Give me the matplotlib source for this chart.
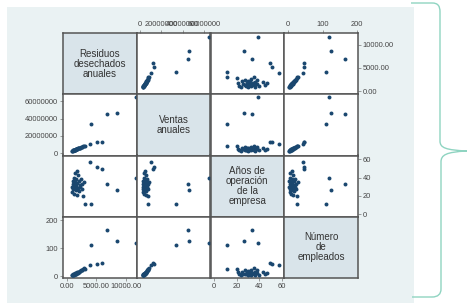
"""Scatter matrix: residuos, ventas, años de operación, empleados."""
import matplotlib
matplotlib.use("Agg")
import matplotlib.pyplot as plt
from matplotlib.patches import Rectangle, PathPatch
from matplotlib.path import Path

plt.rcParams["font.family"] = ["Liberation Sans", "DejaVu Sans"]

# --- data ----------------------------------------------------------------
labels = ["Residuos\ndesechados\nanuales", "Ventas\nanuales",
          "Años de\noperación\nde la\nempresa", "Número\nde\nempleados"]

residuos = [820, 880, 950, 1010, 1080, 1120, 1180, 1230, 1290, 1340, 1380,
            1430, 1480, 1520, 1570, 1620, 1680, 1730, 1790, 1850, 1920, 2000,
            2080, 2150, 2250, 2350, 2480, 2600, 2750, 2950,
            11700, 8600, 6900, 4080, 5980, 5120, 3970, 3100]
ventas = [2.6e6, 2.8e6, 3.0e6, 3.2e6, 3.3e6, 3.5e6, 3.6e6, 3.8e6, 3.9e6,
          4.1e6, 4.2e6, 4.3e6, 4.5e6, 4.6e6, 4.7e6, 4.9e6, 5.0e6, 5.2e6,
          5.3e6, 5.5e6, 5.6e6, 5.9e6, 6.0e6, 6.2e6, 6.5e6, 6.8e6, 7.1e6,
          7.4e6, 7.9e6, 8.4e6,
          65.0e6, 46.3e6, 44.7e6, 33.5e6, 12.4e6, 13.0e6, 10.4e6, 7.8e6]
anos = [30, 24, 36, 28, 33, 22, 40, 31, 27, 35, 45, 29, 33, 38, 26, 31, 47,
        34, 21, 29, 43, 36, 25, 32, 30, 38, 27, 33, 20, 35,
        39, 26.5, 33.5, 11.5, 49.5, 51.5, 57, 11.5]
empleados = [3, 5, 4, 7, 6, 8, 5, 9, 8, 10, 7, 11, 9, 12, 10, 13, 11, 12, 14,
             13, 15, 17, 16, 18, 19, 21, 22, 24, 26, 28,
             118, 125, 166, 110, 47, 45, 42, 25]

tick_vals = [[0, 5000, 10000], [0, 20000000, 40000000, 60000000],
             [0, 20, 40, 60], [0, 100, 200]]
tick_text = [["0.00", "5000.00", "10000.00"],
             ["0", "20000000", "40000000", "60000000"],
             ["0", "20", "40", "60"], ["0", "100", "200"]]

# axis limits (horizontal use, vertical use)
xlims = [(-680, 11900), (-3.0e6, 66e6), (-3.1, 62), (-11, 203)]
ylims = [(-700, 12600), (-2.6e6, 68e6), (-2.7, 64), (-6, 212)]

series = [residuos, ventas, anos, empleados]

# --- figure -------------------------------------------------------------
W, H = 467, 304
fig = plt.figure(figsize=(W / 100, H / 100), dpi=100)


def fx(x):
    return x / W


def fy(y):
    return 1 - y / H


fig.patches.append(Rectangle((fx(7), fy(303)), fx(414) - fx(7), fy(7) - fy(303),
                             transform=fig.transFigure, facecolor="#eaf2f3",
                             edgecolor="none", zorder=-1))

left, top, cw, ch = 63, 33, 73.75, 61.25
n = 4
for i in range(n):
    for j in range(n):
        ax = fig.add_axes([fx(left + j * cw), fy(top + (i + 1) * ch),
                           cw / W, ch / H])
        for s in ax.spines.values():
            s.set_color("#555555")
            s.set_linewidth(1.1)
        ax.tick_params(length=2, width=0.5, color="#777777", labelsize=5.4,
                       labelcolor="#444444", pad=1.5)
        if i == j:
            ax.set_facecolor("#d9e4ea")
            ax.set_xticks([])
            ax.set_yticks([])
            ax.text(0.5, 0.5, labels[i], ha="center", va="center",
                    fontsize=7, color="#333333", linespacing=1.0,
                    transform=ax.transAxes)
            continue
        ax.set_facecolor("white")
        ax.scatter(series[j], series[i], s=8, color="#1a476f", linewidths=0,
                   zorder=3)
        ax.set_xlim(*xlims[j])
        ax.set_ylim(*ylims[i])

        # y axis: rows alternate right / left
        if i % 2 == 0 and j == n - 1:
            ax.yaxis.tick_right()
            ax.set_yticks(tick_vals[i], tick_text[i])
        elif i % 2 == 1 and j == 0:
            ax.set_yticks(tick_vals[i], tick_text[i])
        else:
            ax.set_yticks([])
        # x axis: columns alternate bottom / top
        if j % 2 == 0 and i == n - 1:
            ax.set_xticks(tick_vals[j], tick_text[j])
        elif j % 2 == 1 and i == 0:
            ax.xaxis.tick_top()
            ax.set_xticks(tick_vals[j], tick_text[j])
        else:
            ax.set_xticks([])

# curly brace on the right
pts = [(411, 3), (432, 3), (438, 3), (440, 6), (440, 12), (440, 141),
       (440, 148), (446, 150), (467, 151), (446, 152), (441, 155), (441, 162),
       (441, 289), (441, 294), (438, 297), (432, 297), (412, 297)]
codes = [Path.MOVETO, Path.LINETO, Path.CURVE4, Path.CURVE4, Path.CURVE4,
         Path.LINETO, Path.CURVE4, Path.CURVE4, Path.CURVE4, Path.CURVE4,
         Path.CURVE4, Path.CURVE4, Path.LINETO, Path.CURVE4, Path.CURVE4,
         Path.CURVE4, Path.LINETO]
brace = Path([(fx(x), fy(y)) for x, y in pts], codes)
fig.patches.append(PathPatch(brace, transform=fig.transFigure, fill=False,
                             edgecolor="#8fd4c1", linewidth=1.0))

fig.savefig("out.png", dpi=100)
